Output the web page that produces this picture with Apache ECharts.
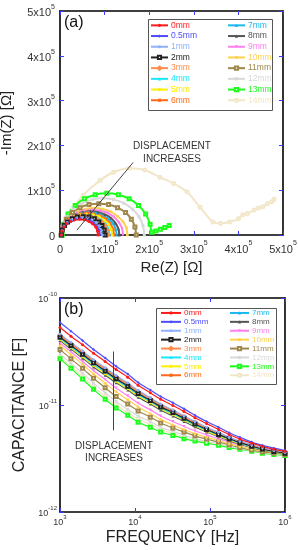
<!DOCTYPE html>
<html><head><meta charset="utf-8">
<script src="https://cdn.jsdelivr.net/npm/echarts@6/dist/echarts.min.js"></script>
<style>html,body{margin:0;padding:0;background:#fff}#c{width:298px;height:550px}</style>
</head><body><div id="c"></div>
<script>
// ---------- DATA ----------
const seriesNames = ['0mm','0.5mm','1mm','2mm','3mm','4mm','5mm','6mm','7mm','8mm','9mm','10mm','11mm','12mm','13mm','14mm'];
const seriesColors = ['#ff1a1a','#4d4dff','#8fb0ff','#222222','#ff8c4d','#1ae6ff','#ffee00','#ff6a1a','#1ab8f0','#555555','#ff7ff0','#ffd24d','#a0884d','#d9d9d9','#1aff1a','#f2e6c8'];
const seriesSymbols = ['circle','diamond','circle','emptyRect','emptyDiamond','triangle','circle','rect','triangle','triangle','triangle','circle','emptyRect','rect','emptyRect','emptyCircle'];
const seriesSymbolRotate = [0,0,0,0,0,0,0,0,0,0,180,0,0,0,0,0];

// (a) Nyquist: [Re(Z), -Im(Z)] in units of 1e5 ohm
const nyq_0mm = [[.03,0],[.04,.09],[.09,.18],[.15,.25],[.24,.30],[.33,.34],[.44,.35],[.55,.34],[.65,.30],[.73,.25],[.80,.18],[.84,.09],[.85,0]];
const nyq_05mm = [[.03,0],[.05,.10],[.09,.19],[.16,.26],[.25,.32],[.35,.36],[.46,.37],[.57,.36],[.68,.32],[.76,.26],[.83,.19],[.88,.10],[.89,0]];
const nyq_1mm = [[.03,0],[.05,.10],[.09,.20],[.16,.28],[.26,.34],[.37,.38],[.49,.39],[.61,.38],[.72,.34],[.82,.28],[.89,.20],[.93,.10],[.95,0]];
const nyq_2mm = [[.03,0],[.05,.11],[.10,.21],[.17,.29],[.28,.36],[.39,.40],[.52,.41],[.65,.40],[.77,.36],[.87,.29],[.94,.21],[.99,.11],[1.01,0]];
const nyq_3mm = [[.03,0],[.05,.11],[.10,.22],[.18,.30],[.29,.37],[.42,.42],[.55,.43],[.68,.42],[.81,.37],[.92,.30],[1.0,.22],[1.05,.11],[1.07,0]];
const nyq_4mm = [[.03,0],[.05,.12],[.10,.23],[.19,.32],[.30,.39],[.43,.44],[.57,.45],[.71,.44],[.84,.39],[.95,.32],[1.04,.23],[1.09,.12],[1.11,0]];
const nyq_5mm = [[.03,0],[.05,.12],[.11,.24],[.20,.33],[.32,.41],[.45,.45],[.60,.47],[.75,.45],[.89,.41],[1.0,.33],[1.09,.24],[1.15,.12],[1.17,0]];
const nyq_6mm = [[.03,0],[.05,.13],[.11,.25],[.20,.35],[.33,.42],[.47,.47],[.62,.49],[.77,.47],[.92,.42],[1.04,.35],[1.13,.25],[1.19,.13],[1.21,0]];
const nyq_7mm = [[.03,0],[.05,.13],[.11,.26],[.21,.36],[.34,.44],[.49,.49],[.65,.51],[.81,.49],[.96,.44],[1.09,.36],[1.19,.26],[1.25,.13],[1.27,0]];
const nyq_8mm = [[.03,0],[.05,.14],[.12,.27],[.22,.38],[.36,.46],[.51,.51],[.68,.53],[.85,.51],[1.0,.46],[1.14,.38],[1.24,.27],[1.31,.14],[1.33,0]];
const nyq_9mm = [[.03,0],[.05,.15],[.12,.28],[.23,.40],[.38,.49],[.54,.54],[.72,.56],[.90,.54],[1.07,.49],[1.21,.40],[1.32,.28],[1.39,.15],[1.41,0]];
const nyq_10mm = [[.03,0],[.06,.16],[.13,.30],[.25,.42],[.40,.52],[.58,.58],[.77,.60],[.96,.58],[1.14,.52],[1.29,.42],[1.41,.30],[1.49,.16],[1.51,0]];
const nyq_11mm = [[.03,0],[.06,.18],[.14,.35],[.28,.50],[.45,.61],[.65,.68],[.87,.70],[1.09,.68],[1.29,.61],[1.47,.50],[1.60,.35],[1.68,.18],[1.71,0]];
const nyq_12mm = [[.03,0],[.06,.21],[.16,.41],[.30,.58],[.50,.71],[.72,.79],[.96,.82],[1.20,.79],[1.43,.71],[1.62,.58],[1.77,.41],[1.86,.21],[1.89,0]];
const nyq_13mm = [[.05,0],[.08,.24],[.18,.47],[.34,.66],[.55,.81],[.79,.90],[1.05,.93],[1.31,.90],[1.55,.81],[1.76,.66],[1.92,.47],[2.02,.24],[2.06,.06],[2.15,.09],[2.25,.13],[2.35,.17],[2.45,.21]];
const nyq_14mm = [[.02,0],[.06,.15],[.15,.33],[.30,.60],[.52,.89],[.90,1.22],[1.20,1.40],[1.55,1.49],[1.90,1.45],[2.24,1.29],[2.55,1.15],[2.85,.96],[3.14,.62],[3.43,.29],[3.60,.26],[3.80,.29],[4.00,.36],[4.10,.45],[4.20,.48],[4.35,.56],[4.45,.60],[4.55,.63],[4.65,.70],[4.75,.74],[4.80,.80]];

// (b) Capacitance vs frequency; capacitance in pF
const freqHz = [1000,1400,2000,2800,4000,5600,8000,11000,16000,22000,32000,45000,63000,90000,130000,180000,250000,360000,500000,710000,1000000];
const cap_0mm = [53,44,36.5,30.5,25.5,21.5,18.2,15.3,13.0,11.3,9.9,8.7,7.6,6.7,5.9,5.3,4.8,4.4,4.1,3.85,3.7];
const cap_05mm = [59,49,40,33,27.5,23,19.5,16.2,13.8,12,10.5,9.2,8.0,7.0,6.2,5.5,5.0,4.5,4.2,3.95,3.75];
const cap_1mm = [46,38.5,32,26.5,22.3,18.9,16.1,13.7,11.7,10.2,9.0,7.9,7.0,6.2,5.55,5.0,4.6,4.25,4.0,3.78,3.62];
const cap_2mm = [43,36,29.8,24.8,20.8,17.6,15,12.8,11,9.6,8.5,7.5,6.65,5.9,5.3,4.85,4.45,4.12,3.88,3.68,3.55];
const cap_3mm = [44,37,30.5,25.5,21.5,18.2,15.5,13.2,11.3,9.9,8.7,7.7,6.8,6.0,5.4,4.9,4.5,4.15,3.9,3.7,3.6];
const cap_4mm = [42,35,29,24,20.2,17.1,14.6,12.5,10.8,9.4,8.3,7.35,6.5,5.8,5.22,4.78,4.4,4.08,3.85,3.66,3.54];
const cap_5mm = [41,34.2,28.2,23.4,19.6,16.6,14.2,12.2,10.5,9.2,8.1,7.2,6.4,5.7,5.15,4.72,4.35,4.05,3.82,3.64,3.52];
const cap_6mm = [45,37.6,31.2,26,21.9,18.5,15.8,13.5,11.6,10.1,8.9,7.85,6.95,6.15,5.5,4.98,4.55,4.2,3.95,3.74,3.6];
const cap_7mm = [43.5,36.4,30.1,25.1,21.1,17.9,15.2,13,11.2,9.75,8.6,7.6,6.7,5.95,5.35,4.88,4.48,4.14,3.9,3.7,3.57];
const cap_8mm = [40,33.3,27.4,22.7,19,16.1,13.8,11.8,10.2,8.95,7.9,7.0,6.25,5.6,5.05,4.65,4.3,4.0,3.78,3.62,3.5];
const cap_9mm = [38,31.5,25.5,21,17.3,14.4,12.2,10.4,9.0,7.9,7.0,6.3,5.75,5.25,4.85,4.5,4.25,4.0,3.8,3.65,3.55];
const cap_10mm = [36,29.5,24,19.5,16,13.3,11.2,9.6,8.3,7.3,6.5,5.9,5.4,5.0,4.65,4.35,4.1,3.88,3.72,3.6,3.5];
const cap_11mm = [33,27,22,17.8,14.5,12.0,10.2,8.8,7.7,6.8,6.1,5.6,5.15,4.8,4.5,4.25,4.0,3.8,3.65,3.55,3.45];
const cap_12mm = [30,24.5,19.8,16,13,10.8,9.1,7.9,7.0,6.2,5.7,5.2,4.85,4.55,4.35,4.1,3.9,3.75,3.6,3.5,3.42];
const cap_13mm = [27,22,17.5,14,11.3,9.4,8.0,6.9,6.2,5.6,5.2,4.85,4.6,4.4,4.2,4.0,3.85,3.7,3.55,3.45,3.38];
const cap_14mm = [28,23,18.5,14.8,12,10,8.5,7.4,6.6,5.9,5.45,5.0,4.7,4.45,4.25,4.05,3.88,3.72,3.58,3.48,3.4];

const xTicksA = [0,1,2,3,4,5];       // x 1e5
const yTicksA = [0,1,2,3,4,5];       // x 1e5
const xTicksB = [3,4,5,6];           // log10 Hz
const yTicksB = [-12,-11,-10];       // log10 F

// ---------- CHART ----------
const nyqAll = [nyq_0mm,nyq_05mm,nyq_1mm,nyq_2mm,nyq_3mm,nyq_4mm,nyq_5mm,nyq_6mm,nyq_7mm,nyq_8mm,nyq_9mm,nyq_10mm,nyq_11mm,nyq_12mm,nyq_13mm,nyq_14mm];
const capAll = [cap_0mm,cap_05mm,cap_1mm,cap_2mm,cap_3mm,cap_4mm,cap_5mm,cap_6mm,cap_7mm,cap_8mm,cap_9mm,cap_10mm,cap_11mm,cap_12mm,cap_13mm,cap_14mm];

const FF = '"Liberation Sans", Arial, sans-serif';
const TICKC = '#3a3aff';
const chart = echarts.init(document.getElementById('c'), null, {renderer:'canvas'});

function axBase(extra){
  return Object.assign({
    axisLine:{show:true,onZero:false,lineStyle:{color:'#000',width:1.6}},
    axisTick:{show:true,inside:true,length:4,lineStyle:{color:TICKC,width:1}},
    splitLine:{show:false}, minorTick:{show:false}
  }, extra);
}
const supRich = (base, sup) => ({
  a:{fontSize:base,fontFamily:FF,color:'#333',lineHeight:base+4,verticalAlign:'bottom'},
  s:{fontSize:sup,fontFamily:FF,color:'#333',lineHeight:base+4,verticalAlign:'top',padding:[0,0,0,0]}
});

const series = [];
// panel (a) series: larger ones first so small arcs sit on top
for (let i = seriesNames.length-1; i >= 0; i--) {
  series.push({
    name:seriesNames[i], type:'line', xAxisIndex:0, yAxisIndex:0,
    data: nyqAll[i].map(p => [p[0]*1e5, p[1]*1e5]),
    smooth:0.3, symbol:seriesSymbols[i], symbolRotate:seriesSymbolRotate[i], symbolSize:3,
    showAllSymbol:true, color:seriesColors[i],
    lineStyle:{width:2,color:seriesColors[i]}, itemStyle:{color:seriesColors[i]},
    z: 2
  });
}
for (let i = seriesNames.length-1; i >= 0; i--) {
  series.push({
    name:seriesNames[i], type:'line', xAxisIndex:2, yAxisIndex:2,
    data: freqHz.map((f,k) => [f, capAll[i][k]*1e-12]),
    smooth:0.2, symbol:seriesSymbols[i], symbolRotate:seriesSymbolRotate[i], symbolSize:3,
    showAllSymbol:true, color:seriesColors[i],
    lineStyle:{width:1.2,color:seriesColors[i]}, itemStyle:{color:seriesColors[i]},
    z: 2
  });
}
// arrows (annotation) in data space
series.push({
  type:'line', xAxisIndex:0, yAxisIndex:0, data:[], silent:true,
  markLine:{silent:true, symbol:['none','arrow'], symbolSize:[0,6], label:{show:false},
    lineStyle:{color:'#444',width:1,type:'solid'},
    data:[[{coord:[0.38e5,0.11e5]},{coord:[1.64e5,1.62e5]}]]}, z:5
});
series.push({
  type:'line', xAxisIndex:2, yAxisIndex:2, data:[], silent:true,
  markLine:{silent:true, symbol:['none','arrow'], symbolSize:[0,6], label:{show:false},
    lineStyle:{color:'#444',width:1,type:'solid'},
    data:[[{coord:[5100,3.16e-11]},{coord:[5100,5.8e-12]}]]}, z:5
});

function legendCol(left, top, names, fs, rowH, iw){
  return {
    left:left, top:top, orient:'vertical', padding:0, itemGap:0,
    itemWidth:iw, itemHeight:4,
    data: names.map(n => ({name:n, textStyle:{color:seriesColors[seriesNames.indexOf(n)]}})),
    textStyle:{fontSize:fs, fontFamily:FF, lineHeight:rowH, padding:[0,0,0,-2]},
    selectedMode:false
  };
}
const leftNames = seriesNames.slice(0,8), rightNames = seriesNames.slice(8);

const option = {
  animation:false,
  backgroundColor:'#fff',
  grid:[
    {left:60, top:11, width:223, height:224, containLabel:false, outerBoundsMode:'none'},
    {left:60, top:298, width:225, height:214, containLabel:false, outerBoundsMode:'none'}
  ],
  xAxis:[
    axBase({type:'value', gridIndex:0, min:0, max:5e5, interval:1e5, position:'bottom',
      name:'Re(Z) [Ω]', nameLocation:'middle', nameGap:25,
      nameTextStyle:{fontSize:15, fontFamily:FF, color:'#222'},
      axisLabel:{margin:5, formatter:v => { const k=Math.round(v/1e5); return xTicksA.includes(k) ? (k===0?'{a|0}':'{a|'+k+'x10}{s|5}') : ''; }, rich:supRich(11,7)}}),
    axBase({type:'value', gridIndex:0, min:0, max:5e5, interval:1e5, position:'top', axisLabel:{show:false}}),
    axBase({type:'log', logBase:10, gridIndex:1, min:1e3, max:1e6, position:'bottom',
      name:'FREQUENCY [Hz]', nameLocation:'middle', nameGap:18,
      nameTextStyle:{fontSize:16, fontFamily:FF, color:'#222'},
      axisLabel:{margin:2, formatter:v => { const k=Math.round(Math.log10(v)); return xTicksB.includes(k) ? '{a|10}{s|'+k+'}' : ''; }, rich:supRich(9,6)}}),
    axBase({type:'log', logBase:10, gridIndex:1, min:1e3, max:1e6, position:'top', axisLabel:{show:false}})
  ],
  yAxis:[
    axBase({type:'value', gridIndex:0, min:0, max:5e5, interval:1e5, position:'left',
      name:'-Im(Z) [Ω]', nameLocation:'middle', nameGap:46, nameRotate:90,
      nameTextStyle:{fontSize:15, fontFamily:FF, color:'#222'},
      axisLabel:{margin:5, formatter:v => { const k=Math.round(v/1e5); return yTicksA.includes(k) ? (k===0?'{a|0}':'{a|'+k+'x10}{s|5}') : ''; }, rich:supRich(11,7)}}),
    axBase({type:'value', gridIndex:0, min:0, max:5e5, interval:1e5, position:'right', axisLabel:{show:false}}),
    axBase({type:'log', logBase:10, gridIndex:1, min:1e-12, max:1e-10, position:'left',
      name:'CAPACITANCE [F]', nameLocation:'middle', nameGap:27, nameRotate:90,
      nameTextStyle:{fontSize:16, fontFamily:FF, color:'#222'},
      axisLabel:{margin:3, formatter:v => { const k=Math.round(Math.log10(v)); return yTicksB.includes(k) ? '{a|10}{s|'+k+'}' : ''; }, rich:supRich(9,6)}}),
    axBase({type:'log', logBase:10, gridIndex:1, min:1e-12, max:1e-10, position:'right', axisLabel:{show:false}})
  ],
  legend:[
    legendCol(150, 20, leftNames, 8.5, 10.7, 17),
    legendCol(227, 20, rightNames, 8.5, 10.7, 17),
    legendCol(160, 308.5, leftNames, 8, 8.9, 20),
    legendCol(229, 308.5, rightNames, 8, 8.9, 19)
  ],
  graphic:[
    {type:'rect', left:146, top:17, shape:{width:124, height:91}, style:{fill:null, stroke:'#555', lineWidth:1}, z:10},
    {type:'rect', left:154, top:306, shape:{width:120, height:76}, style:{fill:null, stroke:'#555', lineWidth:1}, z:10},
    {type:'text', left:64, top:15, style:{text:'(a)', font:'16px '+FF, fill:'#111'}, z:10},
    {type:'text', left:64, top:302, style:{text:'(b)', font:'16px '+FF, fill:'#111'}, z:10},
    {type:'text', x:172, y:146, style:{text:'DISPLACEMENT', font:'10px '+FF, fill:'#333', align:'center', verticalAlign:'middle'}, z:10},
    {type:'text', x:172, y:159, style:{text:'INCREASES', font:'10px '+FF, fill:'#333', align:'center', verticalAlign:'middle'}, z:10},
    {type:'text', x:114, y:446, style:{text:'DISPLACEMENT', font:'10px '+FF, fill:'#333', align:'center', verticalAlign:'middle'}, z:10},
    {type:'text', x:114, y:458, style:{text:'INCREASES', font:'10px '+FF, fill:'#333', align:'center', verticalAlign:'middle'}, z:10}
  ],
  series: series
};
chart.setOption(option);
</script>
</body></html>
